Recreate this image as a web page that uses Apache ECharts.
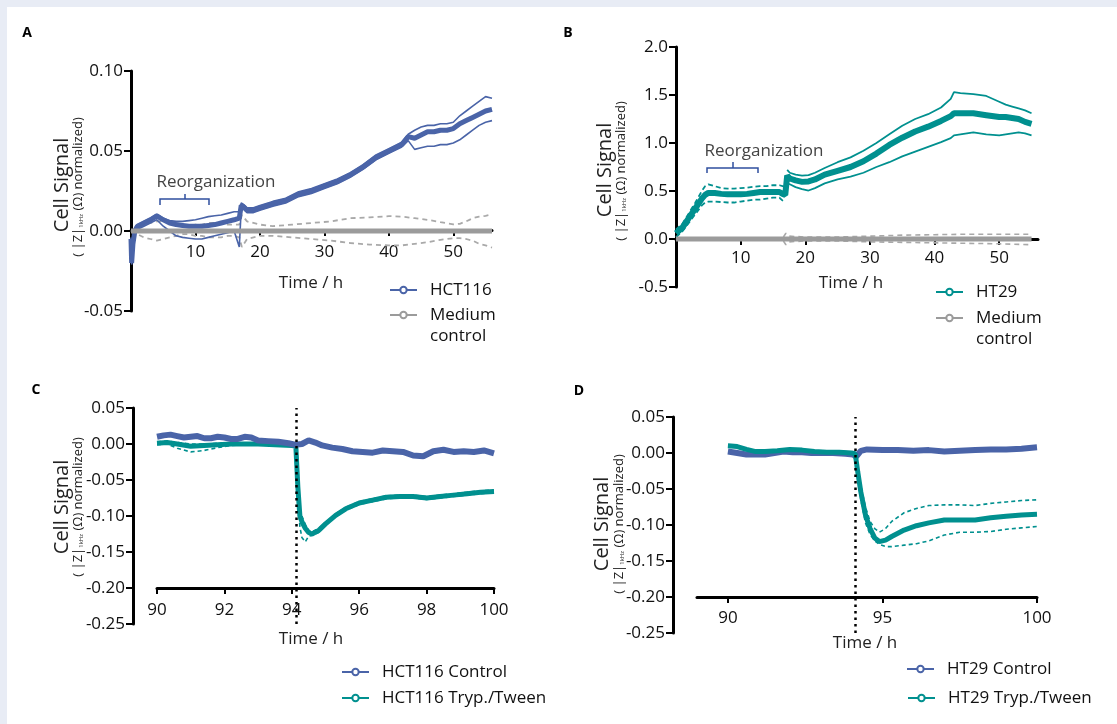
<!DOCTYPE html>
<html>
<head>
<meta charset="utf-8">
<script src="https://cdn.jsdelivr.net/npm/echarts@6/dist/echarts.min.js"></script>
<style>
  html, body { margin: 0; height: 100%; background: #e8ecf5; }
  #sheet { position: absolute; left: 7px; top: 7px; right: 0; bottom: 0; background: #fff; }
  #chart { position: absolute; left: 0; top: 0; width: 1117px; height: 724px; }
</style>
</head>
<body>
<div id="sheet"></div>
<div id="chart"></div>
<script>
// ---- A: HCT116 vs medium control (0-56 h)
const tA = [0, 0.1, 0.3, 0.6, 1, 2, 3, 4, 5, 6, 7, 8, 9, 10, 11, 12, 13, 14, 15, 16, 16.8, 17.1, 17.5, 18, 19, 20, 22, 24, 26, 28, 30, 32, 34, 36, 38, 40, 42, 43, 44, 45, 46, 47, 48, 49, 50, 51, 52, 53, 54, 55, 56];
const hct116 = [-0.005, -0.020, -0.008, 0.000, 0.003, 0.005, 0.007, 0.0095, 0.007, 0.005, 0.004, 0.0035, 0.003, 0.003, 0.003, 0.0035, 0.004, 0.005, 0.006, 0.007, 0.008, 0.016, 0.015, 0.013, 0.013, 0.0145, 0.017, 0.019, 0.023, 0.025, 0.028, 0.031, 0.035, 0.040, 0.046, 0.050, 0.054, 0.059, 0.058, 0.060, 0.062, 0.062, 0.063, 0.063, 0.064, 0.067, 0.069, 0.071, 0.073, 0.075, 0.076];
const hct116Up = [-0.004, -0.018, -0.006, 0.002, 0.004, 0.006, 0.008, 0.0105, 0.008, 0.0065, 0.006, 0.006, 0.0065, 0.007, 0.008, 0.009, 0.0095, 0.010, 0.011, 0.012, 0.012, 0.0175, 0.0165, 0.0145, 0.0145, 0.016, 0.0185, 0.0205, 0.0245, 0.0265, 0.0295, 0.0325, 0.0365, 0.0415, 0.0475, 0.0515, 0.0555, 0.0605, 0.063, 0.065, 0.066, 0.066, 0.067, 0.067, 0.068, 0.072, 0.075, 0.078, 0.081, 0.084, 0.083];
const hct116Lo = [-0.006, -0.021, -0.010, -0.002, 0.001, 0.003, 0.005, 0.007, 0.003, 0.000, -0.003, -0.004, -0.0045, -0.005, -0.005, -0.004, -0.003, -0.002, -0.001, 0.000, -0.010, 0.014, 0.0135, 0.0115, 0.0115, 0.013, 0.0155, 0.0175, 0.0215, 0.0235, 0.0265, 0.0295, 0.0335, 0.0385, 0.0445, 0.0485, 0.0525, 0.0565, 0.051, 0.052, 0.053, 0.053, 0.054, 0.054, 0.055, 0.057, 0.060, 0.063, 0.066, 0.068, 0.069];
const tAm = [0, 1, 2, 3, 4, 5, 6, 7, 8, 9, 10, 11, 12, 13, 14, 15, 16, 16.8, 17.2, 18, 20, 22, 25, 28, 31, 34, 37, 40, 42, 44, 46, 48, 50, 51, 52, 53, 54, 55, 56];
const medUpA = [0, 0.002, 0.004, 0.005, 0.006, 0.006, 0.005, 0.004, 0.003, 0.003, 0.004, 0.004, 0.005, 0.005, 0.005, 0.004, 0.004, 0.004, 0.010, 0.006, 0.004, 0.003, 0.004, 0.005, 0.006, 0.008, 0.0085, 0.0093, 0.009, 0.008, 0.007, 0.0055, 0.0042, 0.0045, 0.006, 0.008, 0.009, 0.0095, 0.0104];
const medLoA = [0, -0.002, -0.004, -0.005, -0.006, -0.005, -0.004, -0.003, -0.002, -0.002, -0.003, -0.003, -0.004, -0.004, -0.004, -0.003, -0.003, -0.004, -0.010, -0.005, -0.003, -0.003, -0.004, -0.005, -0.006, -0.0075, -0.0085, -0.009, -0.009, -0.008, -0.007, -0.0055, -0.0045, -0.0045, -0.005, -0.006, -0.008, -0.009, -0.0104];
const tMedA = [0, 56];
const medA = [0, 0];

// ---- B: HT29 vs medium control
const tB1 = [0, 0.3, 1, 2, 3, 4, 4.5, 5, 6, 7, 8, 9, 10, 11, 12, 13, 14, 15, 16, 16.5, 16.9];
const tB2 = [17.2, 17.6, 18.5, 19.5, 20.5, 21.5, 23, 25, 27, 29, 31, 33, 35, 37, 39, 41, 42.5, 43, 44, 46, 48, 50, 51, 52, 53, 54, 55];
const ht29 = [0.06, 0.05, 0.12, 0.22, 0.32, 0.42, 0.46, 0.48, 0.48, 0.47, 0.465, 0.465, 0.465, 0.47, 0.48, 0.49, 0.49, 0.49, 0.49, 0.47, 0.46,
  0.66, 0.63, 0.61, 0.595, 0.60, 0.62, 0.67, 0.71, 0.75, 0.81, 0.89, 0.98, 1.055, 1.12, 1.17, 1.23, 1.28, 1.31, 1.31, 1.31, 1.29, 1.27, 1.27, 1.26, 1.25, 1.22, 1.20];
const ht29Up1 = [0.10, 0.08, 0.16, 0.27, 0.38, 0.50, 0.55, 0.57, 0.55, 0.53, 0.525, 0.525, 0.53, 0.535, 0.545, 0.55, 0.55, 0.56, 0.56, 0.55, 0.54];
const ht29Lo1 = [0.02, 0.02, 0.08, 0.17, 0.26, 0.35, 0.38, 0.39, 0.39, 0.385, 0.38, 0.38, 0.39, 0.40, 0.41, 0.41, 0.42, 0.43, 0.43, 0.40, 0.38];
const ht29Up2 = [0.72, 0.69, 0.67, 0.66, 0.665, 0.69, 0.74, 0.80, 0.85, 0.92, 1.00, 1.09, 1.18, 1.25, 1.30, 1.37, 1.46, 1.53, 1.52, 1.51, 1.49, 1.43, 1.40, 1.38, 1.36, 1.34, 1.31];
const ht29Lo2 = [0.58, 0.57, 0.54, 0.52, 0.505, 0.53, 0.58, 0.62, 0.65, 0.69, 0.75, 0.80, 0.86, 0.91, 0.96, 1.01, 1.05, 1.08, 1.09, 1.11, 1.09, 1.08, 1.09, 1.10, 1.11, 1.10, 1.08];
const tBm = [0, 5, 10, 16.5, 17, 17.5, 20, 25, 30, 35, 40, 45, 50, 55];
const medUpB = [0.01, 0.01, 0.01, 0.01, 0.06, 0.03, 0.02, 0.02, 0.03, 0.04, 0.045, 0.05, 0.05, 0.05];
const medLoB = [-0.01, -0.01, -0.01, -0.01, -0.06, -0.03, -0.02, -0.02, -0.03, -0.035, -0.04, -0.045, -0.05, -0.06];
const tMedB = [0, 55];
const medB = [0, 0];

// ---- C: HCT116 Tryp./Tween (90-100 h)
const tC = [90, 90.2, 90.4, 90.6, 90.8, 91, 91.2, 91.4, 91.6, 91.8, 92, 92.2, 92.4, 92.6, 92.8, 93, 93.3, 93.6, 93.9, 94.1, 94.3, 94.5, 94.7, 94.9, 95.2, 95.5, 95.8, 96.1, 96.4, 96.7, 97, 97.3, 97.6, 97.9, 98.2, 98.5, 98.8, 99.1, 99.4, 99.7, 100];
const hctCtrl = [0.010, 0.012, 0.013, 0.011, 0.009, 0.010, 0.011, 0.008, 0.008, 0.010, 0.009, 0.007, 0.007, 0.010, 0.009, 0.005, 0.004, 0.003, 0.001, -0.001, 0.000, 0.005, 0.002, -0.002, -0.005, -0.007, -0.010, -0.011, -0.012, -0.009, -0.010, -0.011, -0.016, -0.017, -0.010, -0.008, -0.011, -0.010, -0.011, -0.009, -0.013];
const tCt = [90, 90.3, 90.6, 91, 91.4, 91.8, 92.2, 92.6, 93, 93.5, 94, 94.12, 94.18, 94.24, 94.3, 94.4, 94.5, 94.6, 94.8, 95, 95.3, 95.6, 96, 96.4, 96.8, 97.2, 97.6, 98, 98.4, 98.8, 99.2, 99.6, 100];
const hctTw = [0.001, 0.002, 0.000, -0.003, -0.002, -0.001, 0.000, 0.000, 0.000, -0.001, -0.002, -0.003, -0.06, -0.10, -0.108, -0.117, -0.123, -0.125, -0.120, -0.111, -0.099, -0.090, -0.082, -0.078, -0.074, -0.073, -0.073, -0.075, -0.073, -0.071, -0.069, -0.067, -0.066];
const hctTwUp = [0.003, 0.004, 0.002, 0.000, 0.000, 0.001, 0.001, 0.001, 0.001, 0.000, -0.001, -0.002, -0.05, -0.09, -0.100, -0.112, -0.120, -0.122, -0.117, -0.109, -0.097, -0.088, -0.080, -0.076, -0.072, -0.071, -0.071, -0.073, -0.071, -0.069, -0.067, -0.065, -0.064];
const hctTwLo = [-0.001, 0.000, -0.006, -0.011, -0.009, -0.005, -0.002, -0.001, -0.001, -0.002, -0.003, -0.004, -0.07, -0.115, -0.130, -0.136, -0.128, -0.127, -0.123, -0.113, -0.101, -0.092, -0.084, -0.080, -0.076, -0.075, -0.075, -0.077, -0.075, -0.073, -0.071, -0.069, -0.068];

// ---- D: HT29 Tryp./Tween
const tDc = [90, 90.3, 90.6, 90.9, 91.2, 91.5, 91.8, 92.1, 92.4, 92.7, 93, 93.4, 93.8, 94.05, 94.15, 94.3, 94.5, 95, 95.5, 96, 96.5, 97, 97.5, 98, 98.5, 99, 99.5, 100];
const ht29Ctrl = [0.002, 0.000, -0.002, -0.002, -0.002, 0.000, 0.002, 0.001, 0.001, 0.000, 0.000, 0.000, -0.001, -0.002, -0.005, 0.003, 0.005, 0.004, 0.004, 0.003, 0.004, 0.002, 0.003, 0.004, 0.005, 0.005, 0.006, 0.008];
const tDt = [90, 90.3, 90.6, 90.9, 91.2, 91.6, 92, 92.4, 92.8, 93.2, 93.6, 94, 94.12, 94.2, 94.3, 94.45, 94.6, 94.75, 94.9, 95.1, 95.3, 95.7, 96.1, 96.5, 97, 97.5, 98, 98.5, 99, 99.5, 100];
const ht29Tw = [0.010, 0.009, 0.005, 0.002, 0.002, 0.003, 0.005, 0.004, 0.002, 0.001, 0.001, 0.000, -0.001, -0.026, -0.054, -0.086, -0.105, -0.118, -0.123, -0.121, -0.116, -0.107, -0.101, -0.097, -0.093, -0.093, -0.093, -0.090, -0.088, -0.086, -0.085];
const tDsd = [94.12, 94.2, 94.3, 94.45, 94.6, 94.75, 94.9, 95.1, 95.3, 95.7, 96.1, 96.5, 97, 97.5, 98, 98.5, 99, 99.5, 100];
const ht29TwUp = [-0.001, -0.020, -0.045, -0.075, -0.095, -0.105, -0.110, -0.105, -0.095, -0.083, -0.077, -0.073, -0.072, -0.072, -0.073, -0.070, -0.068, -0.066, -0.065];
const ht29TwLo = [-0.001, -0.030, -0.065, -0.097, -0.113, -0.122, -0.127, -0.130, -0.130, -0.128, -0.126, -0.122, -0.114, -0.110, -0.110, -0.109, -0.106, -0.104, -0.102];

const treatTime = 94.12;      // dotted line, C and D
const xTicksAB = [0, 10, 20, 30, 40, 50];
const xLabelsAB = [10, 20, 30, 40, 50];
const xTicksD = [90, 95, 100];

const BLUE = '#4a64a8', TEAL = '#00908f', GRAY = '#9b9b9b', GRAY_D = '#a9a9a9';
const FONT = 'Open Sans';

const pairs = (t, v) => t.map((x, i) => [x, v[i]]);

function line(name, gi, data, color, width, dash) {
  return {
    type: 'line', name, xAxisIndex: gi, yAxisIndex: gi, data,
    showSymbol: false, symbol: 'emptyCircle', symbolSize: 6,
    lineStyle: { color, width, type: dash || 'solid' },
    itemStyle: { color },
    emphasis: { disabled: true }, silent: true
  };
}
const dotted = {
  silent: true, symbol: 'none', label: { show: false },
  lineStyle: { color: '#000', width: 2.5, type: [2.5, 4] },
  data: [{ xAxis: treatTime }]
};

function yAx(gi, min, max, interval, digits, offset) {
  return {
    gridIndex: gi, type: 'value', min, max, interval, offset: offset || 0,
    axisLine: { show: true, onZero: false, lineStyle: { color: '#000', width: 3 } },
    axisTick: { show: true, length: 7, lineStyle: { color: '#000', width: 2 } },
    axisLabel: { color: '#111', fontSize: 17, fontFamily: FONT, margin: 8,
      formatter: v => (Math.abs(v) < 1e-9 ? 0 : v).toFixed(digits) },
    splitLine: { show: false }
  };
}
// x axis drawn at a chosen height inside the grid (offset from the bottom edge)
function xAx(gi, min, max, offset, margin, ticks, labels) {
  return {
    gridIndex: gi, type: 'value', min, max, position: 'bottom', offset,
    axisLine: { show: true, onZero: false, lineStyle: { color: '#000', width: 3 } },
    axisTick: { show: true, length: 6, customValues: ticks, lineStyle: { color: '#000', width: 2 } },
    axisLabel: { color: '#111', fontSize: 17, fontFamily: FONT, margin, customValues: labels },
    splitLine: { show: false }
  };
}

function legendItem(name, left, cy, multi) {
  return {
    data: [name], left, top: multi ? cy - 31.5 : cy - 10, padding: 0,
    orient: 'vertical', itemWidth: 27, itemHeight: 8, selectedMode: false,
    formatter: n => multi ? '\u00a0\nMedium\ncontrol' : n,
    textStyle: { color: '#111', fontSize: 17, fontFamily: FONT, lineHeight: multi ? 21 : 20, padding: [0, 0, 0, 8] }
  };
}

const txt = (text, x, y, size, extra) => ({
  type: 'text', x, y, silent: true,
  style: Object.assign({ text, fontSize: size, fontFamily: FONT, fill: '#222', align: 'center', verticalAlign: 'middle' }, extra)
});
const letter = (s, x, y) => txt(s, x, y, 14, { fontWeight: 'bold', fill: '#000' });
function ytitle(x1, y1, x2, y2) {
  return [
    Object.assign(txt('Cell Signal', x1, y1, 20), { rotation: Math.PI / 2 }),
    Object.assign(txt('( |Z|{s|1kHz} (Ω) normalized)', x2, y2, 13, {
      rich: { s: { fontSize: 6, fontFamily: FONT, fill: '#222', padding: [6, 0, 0, 0] } }
    }), { rotation: Math.PI / 2 })
  ];
}
const bracket = (x1, xm, x2, y, drop, rise) => ({
  type: 'polyline', silent: true,
  shape: { points: [[x1, y + drop], [x1, y], [xm, y], [xm, y - rise], [xm, y], [x2, y], [x2, y + drop]] },
  style: { stroke: '#2f4f9f', lineWidth: 1.5, fill: null }
});

const chart = echarts.init(document.getElementById('chart'));
chart.setOption({
  animation: false,
  grid: [
    { left: 131, top: 71, width: 361, height: 240 },
    { left: 676, top: 47, width: 362, height: 240 },
    { left: 157, top: 408, width: 337, height: 216 },
    { left: 697, top: 417, width: 340, height: 216 }
  ],
  xAxis: [
    xAx(0, 0, 56, -81, 14, xTicksAB, xLabelsAB),
    xAx(1, 0, 56, -48, 11, xTicksAB, xLabelsAB),
    Object.assign(xAx(2, 90, 100, -36, 14), { interval: 2 }),
    xAx(3, 89, 100, -36, 13, xTicksD, xTicksD)
  ],
  yAxis: [
    yAx(0, -0.05, 0.10, 0.05, 2),
    yAx(1, -0.5, 2.0, 0.5, 1),
    yAx(2, -0.25, 0.05, 0.05, 2, 24),
    yAx(3, -0.25, 0.05, 0.05, 2, 24)
  ],
  legend: [
    legendItem('HCT116', 389, 290),
    legendItem('Medium control', 389, 315, true),
    legendItem('HT29', 935, 292),
    legendItem('Medium control', 935, 318, true),
    legendItem('HCT116 Control', 341, 672),
    legendItem('HCT116 Tryp./Tween', 341, 698),
    legendItem('HT29 Control', 906, 669),
    legendItem('HT29 Tryp./Tween', 907, 698)
  ],
  series: [
    // A
    line('medA+', 0, pairs(tAm, medUpA), GRAY_D, 1.8, [5, 4]),
    line('medA-', 0, pairs(tAm, medLoA), GRAY_D, 1.8, [5, 4]),
    line('HCT116 +SD', 0, pairs(tA, hct116Up), BLUE, 1.6),
    line('HCT116 -SD', 0, pairs(tA, hct116Lo), BLUE, 1.6),
    line('HCT116', 0, pairs(tA, hct116), BLUE, 5),
    line('Medium control', 0, pairs(tMedA, medA), GRAY, 5),
    // B
    line('medB+', 1, pairs(tBm, medUpB), GRAY_D, 1.6, [5, 4]),
    line('medB-', 1, pairs(tBm, medLoB), GRAY_D, 1.6, [5, 4]),
    line('HT29 +SD1', 1, pairs(tB1, ht29Up1), TEAL, 1.8, [5, 3]),
    line('HT29 -SD1', 1, pairs(tB1, ht29Lo1), TEAL, 1.8, [5, 3]),
    line('HT29 +SD2', 1, pairs(tB2, ht29Up2), TEAL, 1.8),
    line('HT29 -SD2', 1, pairs(tB2, ht29Lo2), TEAL, 1.8),
    line('HT29', 1, pairs(tB1.concat(tB2), ht29), TEAL, 6),
    line('Medium control', 1, pairs(tMedB, medB), GRAY, 5),
    // C
    line('HCT116 Tw +SD', 2, pairs(tCt, hctTwUp), TEAL, 1.6, [4, 3]),
    line('HCT116 Tw -SD', 2, pairs(tCt, hctTwLo), TEAL, 1.6, [4, 3]),
    line('HCT116 Tryp./Tween', 2, pairs(tCt, hctTw), TEAL, 5),
    Object.assign(line('HCT116 Control', 2, pairs(tC, hctCtrl), BLUE, 6), { markLine: dotted }),
    // D
    line('HT29 Tw +SD', 3, pairs(tDsd, ht29TwUp), TEAL, 1.6, [4, 3]),
    line('HT29 Tw -SD', 3, pairs(tDsd, ht29TwLo), TEAL, 1.6, [4, 3]),
    line('HT29 Control', 3, pairs(tDc, ht29Ctrl), BLUE, 6),
    Object.assign(line('HT29 Tryp./Tween', 3, pairs(tDt, ht29Tw), TEAL, 5), { markLine: dotted })
  ],
  graphic: [
    letter('A', 27, 33), letter('B', 568, 33), letter('C', 36, 390), letter('D', 579, 391),
    ...ytitle(62, 185, 78, 187), ...ytitle(605, 170, 621, 171),
    ...ytitle(62, 507, 78, 507), ...ytitle(602, 524, 619, 524),
    txt('Time / h', 311, 283, 17), txt('Time / h', 851, 283, 17),
    txt('Time / h', 311, 639, 17), txt('Time / h', 865, 643, 17),
    txt('Reorganization', 216, 182, 17, { fill: '#444' }),
    bracket(160, 185, 209, 199, 6, 5),
    txt('Reorganization', 764, 151, 17, { fill: '#444' }),
    bracket(707, 733, 758, 168, 5, 6)
  ]
});
</script>
</body>
</html>
